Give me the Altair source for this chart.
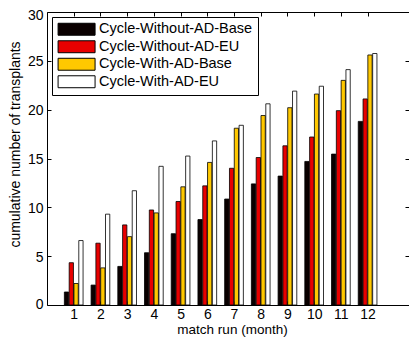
import altair as alt
import pandas as pd

months = list(range(1, 13))
series = ["Cycle-Without-AD-Base", "Cycle-Without-AD-EU", "Cycle-With-AD-Base", "Cycle-With-AD-EU"]
without_ad_base = [1.33, 2.04, 3.95, 5.35, 7.3, 8.75, 10.85, 12.4, 13.2, 14.7, 15.45, 18.8]
without_ad_eu = [4.33, 6.33, 8.2, 9.73, 10.6, 12.2, 14.0, 15.1, 16.3, 17.2, 19.9, 21.1]
with_ad_base = [2.2, 3.8, 7.0, 9.43, 12.1, 14.6, 18.1, 19.4, 20.2, 21.6, 23.0, 25.6]
with_ad_eu = [6.6, 9.3, 11.7, 14.2, 15.25, 16.8, 18.4, 20.6, 21.9, 22.4, 24.1, 25.75]
colors = ["#0a0000", "#e80000", "#ffc800", "#ffffff"]
y_ticks = [0, 5, 10, 15, 20, 25, 30]

rows = []
for i, (name, vals) in enumerate(zip(series, [without_ad_base, without_ad_eu, with_ad_base, with_ad_eu])):
    for m, v in zip(months, vals):
        rows.append({"month": m, "series": name, "idx": i, "value": v})
df = pd.DataFrame(rows)

FONT = "Liberation Sans"
xscale = alt.Scale(domain=[0, 13.55], nice=False, zero=False)
yscale = alt.Scale(domain=[0, 30], nice=False, zero=False)

base = alt.Chart(df)

bars = base.transform_calculate(
    x0="datum.month + (datum.idx - 2) * 0.18 + 0.01",
    x1="datum.month + (datum.idx - 2) * 0.18 + 0.17",
).mark_bar(stroke="black", strokeWidth=0.8, opacity=1).encode(
    x=alt.X("x0:Q", scale=xscale,
            axis=alt.Axis(orient="bottom", values=months, title="match run (month)",
                          offset=-4, tickSize=4, labelPadding=2, domain=False, grid=False,
                          titlePadding=1, titleX=185, titleFontSize=13.5)),
    x2="x1:Q",
    y=alt.Y("value:Q", scale=yscale,
            axis=alt.Axis(orient="left", values=y_ticks, title="cumulative number of transplants",
                          offset=-4, tickSize=4, labelPadding=4, labelOffset=1,
                          labelFlush=True, labelFlushOffset=5, domain=False,
                          grid=False, titlePadding=5, titleY=132)),
    y2=alt.datum(0),
    color=alt.Color("series:N", scale=alt.Scale(domain=series, range=colors),
                    legend=alt.Legend(title=None, orient="none", legendX=5, legendY=5,
                                      strokeColor="black", fillColor="white", padding=5,
                                      symbolType="M-1,-0.97L5,-0.97L5,0.97L-1,0.97Z",
                                      symbolSize=152, symbolStrokeColor="black",
                                      symbolStrokeWidth=1, symbolOpacity=1,
                                      labelFont=FONT, labelFontSize=14.5, labelColor="black",
                                      labelOffset=27.5, rowPadding=0.5)),
)

inner_ticks = base.mark_point(opacity=0).encode(
    x=alt.X("month:Q", scale=xscale,
            axis=alt.Axis(orient="top", values=months, title=None, labels=False,
                          offset=-4, tickSize=4, domain=False, grid=False)),
    y=alt.Y("value:Q", scale=yscale,
            axis=alt.Axis(orient="right", values=y_ticks, title=None, labels=False,
                          offset=-4, tickSize=4, domain=False, grid=False)),
)

frame_bl = base.mark_point(opacity=0).encode(
    x=alt.X("month:Q", scale=xscale,
            axis=alt.Axis(orient="bottom", title=None, labels=False, ticks=False,
                          domain=True, grid=False)),
    y=alt.Y("value:Q", scale=yscale,
            axis=alt.Axis(orient="left", title=None, labels=False, ticks=False,
                          domain=True, grid=False)),
)

frame_t = base.mark_point(opacity=0).encode(
    x=alt.X("month:Q", scale=xscale,
            axis=alt.Axis(orient="top", title=None, labels=False, ticks=False,
                          domain=True, grid=False)),
    y=alt.Y("value:Q", scale=yscale, axis=None),
)

chart = alt.layer(bars, inner_ticks, frame_bl, frame_t).resolve_axis(
    x="independent", y="independent"
).properties(
    width=362, height=293,
    autosize=alt.AutoSizeParams(type="none"),
    padding={"left": 39, "top": 4, "right": 0, "bottom": 32},
).configure_view(
    stroke=None
).configure_axis(
    labelFont=FONT, labelFontSize=14, labelColor="black",
    titleFont=FONT, titleFontSize=14, titleFontWeight="normal", titleColor="black",
    tickColor="black", tickWidth=1, domainColor="black", domainWidth=1,
)

chart.save("out.html", embed_options={"renderer": "svg", "actions": False})
